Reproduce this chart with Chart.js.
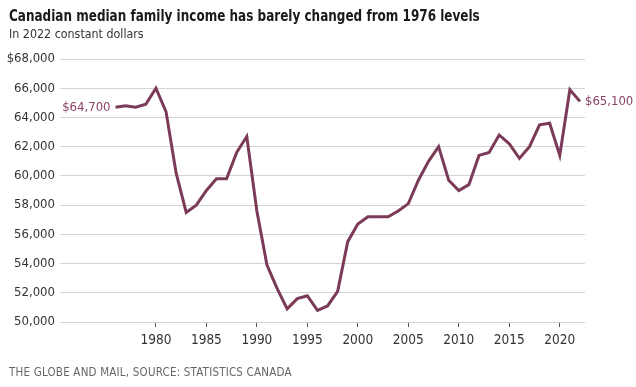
<!DOCTYPE html>
<html>
<head>
<meta charset="utf-8">
<script src="https://cdn.jsdelivr.net/npm/chart.js@4/dist/chart.umd.min.js"></script>
<style>
  body { margin: 0; background: #fff; font-family: "DejaVu Sans Condensed", "Liberation Sans Narrow", sans-serif; }
  #wrap { position: relative; width: 636px; height: 387px; overflow: hidden; }
  #titulo, #sub, #fonte { position: absolute; left: 9px; white-space: nowrap; transform-origin: left top; }
  #titulo { top: 6px; font-size: 16.5px; font-weight: bold; color: #1a1a1a; transform: scaleX(0.81); }
  #sub { top: 26px; font-size: 13px; color: #333; transform: scaleX(0.95); }
  #fonte { top: 365px; font-size: 11.5px; color: #666; letter-spacing: 0.2px; }
  canvas { position: absolute; left: 0; top: 0; }
</style>
</head>
<body>
<div id="wrap">
  <canvas id="grafico" width="636" height="387"></canvas>
  <div id="titulo">Canadian median family income has barely changed from 1976 levels</div>
  <div id="sub">In 2022 constant dollars</div>
  <div id="fonte">THE GLOBE AND MAIL, SOURCE: STATISTICS CANADA</div>
</div>
<script>
const anos = [1976, 1977, 1978, 1979, 1980, 1981, 1982, 1983, 1984, 1985,
  1986, 1987, 1988, 1989, 1990, 1991, 1992, 1993, 1994, 1995,
  1996, 1997, 1998, 1999, 2000, 2001, 2002, 2003, 2004, 2005,
  2006, 2007, 2008, 2009, 2010, 2011, 2012, 2013, 2014, 2015,
  2016, 2017, 2018, 2019, 2020, 2021, 2022];
const renda = [64700, 64800, 64700, 64900, 66000, 64400, 60200, 57500, 58000, 59000,
  59800, 59800, 61600, 62700, 57600, 53900, 52300, 50900, 51600, 51800,
  50800, 51100, 52100, 55500, 56700, 57200, 57200, 57200, 57600, 58100,
  59700, 61000, 62000, 59700, 59000, 59400, 61400, 61600, 62800, 62200,
  61200, 62000, 63500, 63600, 61400, 65900, 65100];
const anosEixo = [1980, 1985, 1990, 1995, 2000, 2005, 2010, 2015, 2020];
const corLinha = '#7b3b58';
const fonte = '"DejaVu Sans Condensed", "Liberation Sans Narrow", sans-serif';

function formatar(v) {
  return v.toLocaleString('en-US');
}

// rotulos no inicio e no fim da linha
const rotulosPontas = {
  id: 'rotulosPontas',
  afterDatasetsDraw(chart) {
    const ctx = chart.ctx;
    const pts = chart.getDatasetMeta(0).data;
    const primeiro = pts[0];
    const ultimo = pts[pts.length - 1];
    ctx.save();
    ctx.font = '13px ' + fonte;
    ctx.fillStyle = '#8a4467';
    ctx.textBaseline = 'middle';
    ctx.textAlign = 'right';
    ctx.fillText('$' + formatar(renda[0]), primeiro.x - 5, primeiro.y);
    ctx.textAlign = 'left';
    ctx.fillText('$' + formatar(renda[renda.length - 1]), ultimo.x + 5, ultimo.y);
    ctx.restore();
  }
};

new Chart(document.getElementById('grafico'), {
  type: 'line',
  data: {
    datasets: [{
      data: anos.map((a, i) => ({ x: a, y: renda[i] })),
      borderColor: corLinha,
      borderWidth: 3,
      pointRadius: 0,
      tension: 0,
      fill: false
    }]
  },
  options: {
    responsive: false,
    animation: false,
    layout: { padding: { top: 59, right: 51, left: 0, bottom: 0 } },
    plugins: { legend: { display: false }, tooltip: { enabled: false } },
    scales: {
      x: {
        type: 'linear',
        min: 1970.5,
        max: 2022.5,
        afterBuildTicks(scale) { scale.ticks = anosEixo.map(v => ({ value: v })); },
        afterFit(scale) { scale.height = 65; },
        border: { display: false },
        grid: { drawOnChartArea: false, drawTicks: true, tickLength: 5, color: '#555' },
        ticks: {
          padding: 5,
          maxRotation: 0,
          color: '#333',
          font: { family: fonte, size: 13.5 },
          callback: v => String(v)
        }
      },
      y: {
        min: 50000,
        max: 68000,
        afterFit(scale) { scale.width = 60; },
        border: { display: false },
        grid: { color: '#d4d4d4', lineWidth: 1, drawTicks: false },
        ticks: {
          stepSize: 2000,
          padding: 5,
          color: '#333',
          font: { family: fonte, size: 13 },
          callback: v => (v === 68000 ? '$' : '') + formatar(v)
        }
      }
    }
  },
  plugins: [rotulosPontas]
});
</script>
</body>
</html>
